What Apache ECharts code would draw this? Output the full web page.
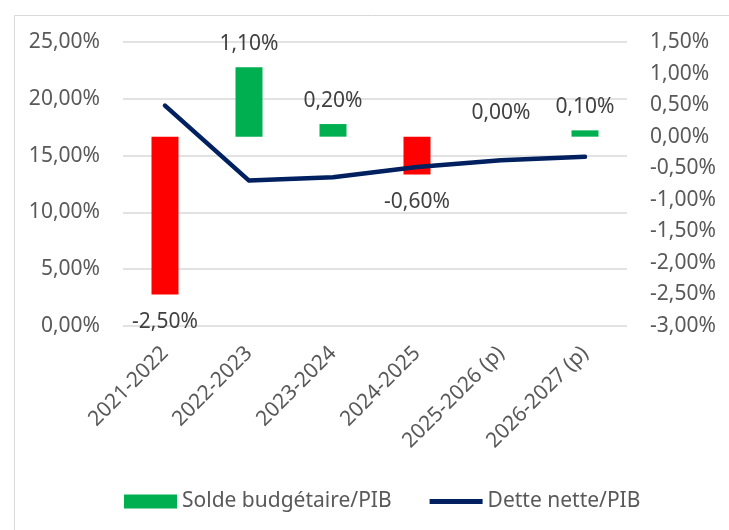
<!DOCTYPE html>
<html lang="fr">

<head>
    <meta charset="UTF-8">
    <title>Solde budgétaire et dette nette</title>
    <script src="https://cdn.jsdelivr.net/npm/echarts@6/dist/echarts.min.js"></script>
    <style>
        body { margin: 0; background: #fff; }
        #chart { width: 729px; height: 530px; }
    </style>
</head>

<body>
    <div id="chart"></div>
    <script>
        // données (en %)
        var categories = ['2021-2022', '2022-2023', '2023-2024', '2024-2025', '2025-2026 (p)', '2026-2027 (p)']
        var soldeBudgetaire = [-2.5, 1.1, 0.2, -0.6, 0.0, 0.1]
        var detteNette = [19.4, 12.8, 13.1, 14.0, 14.6, 14.9]

        var textColor = '#595959'
        var fontFamily = 'Noto Sans'
        var fontSize = 21

        function pct(v) {
            return v.toFixed(2).replace('.', ',') + '%'
        }

        var mCharts = echarts.init(document.getElementById('chart'))

        // barres : vert si positif, rouge si négatif ; étiquette au-dessus ou en dessous
        var barData = soldeBudgetaire.map(function(v) {
            return {
                value: v,
                itemStyle: { color: v < 0 ? '#FF0000' : '#00B050' },
                label: { position: v < 0 ? 'bottom' : 'top', distance: v < 0 ? 17 : 13 }
            }
        })

        var option = {
            animation: false,
            textStyle: { fontFamily: fontFamily },
            graphic: [{
                type: 'rect',
                left: 12,
                top: 13,
                shape: { width: 740, height: 540 },
                style: { fill: 'none', stroke: '#d9d9d9', lineWidth: 1 },
                silent: true
            }],
            grid: {
                left: 123,
                right: 102,
                top: 42,
                bottom: 204
            },
            legend: {
                left: 119,
                top: 486,
                itemWidth: 53,
                itemHeight: 14,
                itemGap: 38,
                textStyle: { color: textColor, fontSize: fontSize, fontFamily: fontFamily },
                data: [
                    { name: 'Solde budgétaire/PIB', icon: 'rect' },
                    { name: 'Dette nette/PIB', icon: 'path://M0,0 L53,0 L53,5 L0,5 Z' }
                ]
            },
            xAxis: {
                type: 'category',
                data: categories,
                axisLine: { show: false },
                axisTick: { show: false },
                axisLabel: {
                    rotate: 45,
                    margin: 24,
                    color: textColor,
                    fontSize: fontSize,
                    fontFamily: fontFamily,
                    interval: 0
                }
            },
            yAxis: [{
                    type: 'value',
                    min: 0,
                    max: 25,
                    interval: 5,
                    axisLine: { show: false },
                    axisTick: { show: false },
                    splitLine: { lineStyle: { color: '#d9d9d9', width: 1.5 } },
                    axisLabel: {
                        margin: 23,
                        color: textColor,
                        fontSize: fontSize,
                        fontFamily: fontFamily,
                        formatter: pct
                    }
                },
                {
                    type: 'value',
                    min: -3,
                    max: 1.5,
                    interval: 0.5,
                    axisLine: { show: false },
                    axisTick: { show: false },
                    splitLine: { show: false },
                    axisLabel: {
                        margin: 23,
                        color: textColor,
                        fontSize: fontSize,
                        fontFamily: fontFamily,
                        formatter: pct
                    }
                }
            ],
            series: [{
                    name: 'Solde budgétaire/PIB',
                    type: 'bar',
                    yAxisIndex: 1,
                    barWidth: 27,
                    itemStyle: { color: '#00B050' },
                    label: {
                        show: true,
                        color: '#404040',
                        fontSize: fontSize,
                        fontFamily: fontFamily,
                        formatter: function(p) {
                            return pct(p.value)
                        }
                    },
                    data: barData
                },
                {
                    name: 'Dette nette/PIB',
                    type: 'line',
                    yAxisIndex: 0,
                    symbol: 'none',
                    lineStyle: { color: '#002060', width: 4.5, cap: 'round', join: 'round' },
                    itemStyle: { color: '#002060' },
                    data: detteNette,
                    z: 3
                }
            ]
        }

        mCharts.setOption(option)
    </script>
</body>

</html>
